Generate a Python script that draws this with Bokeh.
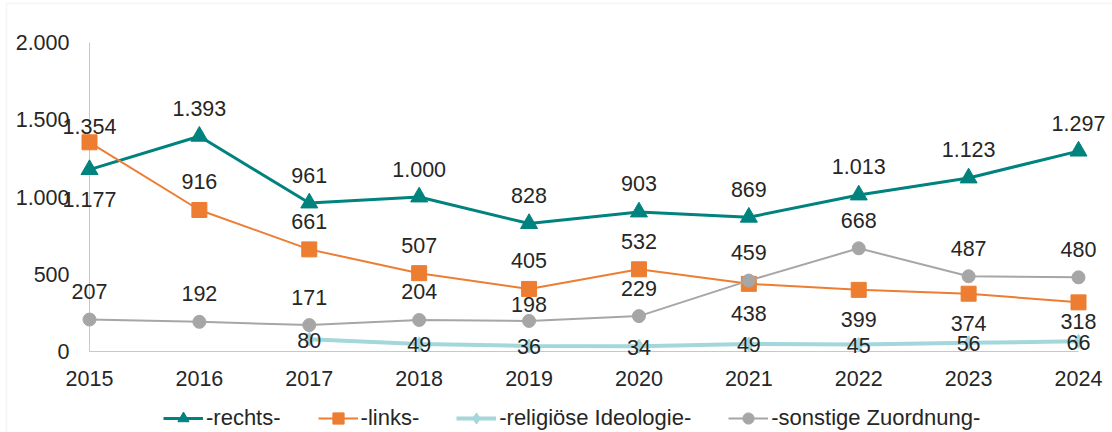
from bokeh.plotting import figure
from bokeh.models import (ColumnDataSource, LabelSet, Legend, LegendItem, Range1d,
                          BoxAnnotation)
from bokeh.core.properties import value
from bokeh.embed import file_html
from bokeh.resources import INLINE

# ---------------- data ----------------
years = [2015, 2016, 2017, 2018, 2019, 2020, 2021, 2022, 2023, 2024]
rechts = [1177, 1393, 961, 1000, 828, 903, 869, 1013, 1123, 1297]
links = [1354, 916, 661, 507, 405, 532, 438, 399, 374, 318]
religioes_years = [2017, 2018, 2019, 2020, 2021, 2022, 2023, 2024]
religioes = [80, 49, 36, 34, 49, 45, 56, 66]
sonstige = [207, 192, 171, 204, 198, 229, 459, 668, 487, 480]

series_names = ["-rechts-", "-links-", "-religiöse Ideologie-", "-sonstige Zuordnung-"]
y_ticks = [0, 500, 1000, 1500, 2000]
y_tick_labels = ["0", "500", "1.000", "1.500", "2.000"]
x_tick_labels = [str(y) for y in years]

# ---------------- label placement (style) ----------------
rechts_pos = ["b", "a", "a", "a", "a", "a", "a", "a", "a", "a"]
links_pos = ["an", "a", "a", "a", "a", "a", "b", "b", "b", "bn"]
religioes_pos = ["c"] * 8
sonstige_pos = ["a", "a", "a", "a", "an", "a", "a", "a", "a", "a"]
OFFSETS = {"a": 28, "an": 16, "b": -30, "bn": -19, "c": -1}

FONT = "Liberation Sans"
TXT = "#262626"
C_RECHTS = "#00827E"
C_LINKS = "#ED7D31"
C_REL = "#A3D7DB"
C_SONST = "#A6A6A6"
AXIS_C = "#C8C8C8"

W, H = 1112, 432
# pixel layout of the plotting area
PX_X0, PX_PER_YEAR = 89.0, 109.889      # x pixel of first year, pixels per year
PX_Y0, PX_PER_UNIT = 351.0, 0.1545      # y pixel of value 0, pixels per unit

x_start = years[0] - PX_X0 / PX_PER_YEAR
x_end = years[0] + (W - PX_X0) / PX_PER_YEAR
y_end = PX_Y0 / PX_PER_UNIT
y_start = -(H - PX_Y0) / PX_PER_UNIT


def fmt(v):
    return f"{v:,}".replace(",", ".")


p = figure(width=W, height=H, output_backend="svg", toolbar_location=None,
           x_range=Range1d(x_start, x_end), y_range=Range1d(y_start, y_end),
           min_border_left=0, min_border_right=0, min_border_top=0,
           min_border_bottom=0)
p.axis.visible = False
p.grid.visible = False
p.outline_line_color = None
p.background_fill_color = "white"
p.border_fill_color = "white"

# light chart-area border (top and left edges visible)
p.add_layout(BoxAnnotation(left=6, top=3, right=W + 50, bottom=H + 50,
                           left_units="canvas", right_units="canvas",
                           top_units="canvas", bottom_units="canvas",
                           fill_alpha=0, line_color="#DEDEDE", line_width=1.5,
                           level="underlay"))

# axis lines spanning the data extent
p.segment(x0=[years[0]], y0=[y_ticks[0]], x1=[years[0]], y1=[y_ticks[-1]],
          line_color=AXIS_C, line_width=1)
p.segment(x0=[years[0]], y0=[y_ticks[0]], x1=[years[-1]], y1=[y_ticks[0]],
          line_color=AXIS_C, line_width=1)

# tick labels
ytick_src = ColumnDataSource(dict(x=[years[0]] * len(y_ticks), y=y_ticks, text=y_tick_labels))
p.add_layout(LabelSet(x="x", y="y", text="text", source=ytick_src, x_offset=-20,
                      text_align="right", text_baseline="middle",
                      text_font=value(FONT), text_font_size=value("21.5px"),
                      text_color=TXT))
xtick_src = ColumnDataSource(dict(x=years, y=[y_ticks[0]] * len(years), text=x_tick_labels))
p.add_layout(LabelSet(x="x", y="y", text="text", source=xtick_src, y_offset=-27,
                      text_align="center", text_baseline="middle",
                      text_font=value(FONT), text_font_size=value("21.5px"),
                      text_color=TXT))

series = [
    (years, rechts, rechts_pos, C_RECHTS, 3, "triangle", 17),
    (years, links, links_pos, C_LINKS, 2, "square", 15),
    (religioes_years, religioes, religioes_pos, C_REL, 4, "diamond", 14),
    (years, sonstige, sonstige_pos, C_SONST, 2, "circle", 13),
]

items = []
label_sets = []
for name, (xs, ys, pos, color, lw, marker, size) in zip(series_names, series):
    src = ColumnDataSource(dict(x=xs, y=ys, text=[fmt(v) for v in ys],
                                off=[OFFSETS[k] for k in pos]))
    lr = p.line("x", "y", source=src, line_color=color, line_width=lw)
    sr = p.scatter("x", "y", source=src, marker=marker, size=size,
                   fill_color=color, line_color=color)
    items.append(LegendItem(label=name, renderers=[lr, sr]))
    label_sets.append(LabelSet(x="x", y="y", text="text", y_offset="off", source=src,
                               text_align="center", text_baseline="middle",
                               text_font=value(FONT), text_font_size=value("21.5px"),
                               text_color=TXT))

for ls in label_sets:
    p.add_layout(ls)

legend = Legend(items=items, orientation="horizontal", location=(163, 0),
                glyph_width=40, glyph_height=28, label_height=28,
                label_standoff=3, spacing=37, padding=0, margin=0,
                border_line_color=None, background_fill_alpha=0,
                label_text_font=FONT, label_text_font_size="22px",
                label_text_color=TXT)
p.add_layout(legend)

open("out.html", "w").write(file_html(p, INLINE))
